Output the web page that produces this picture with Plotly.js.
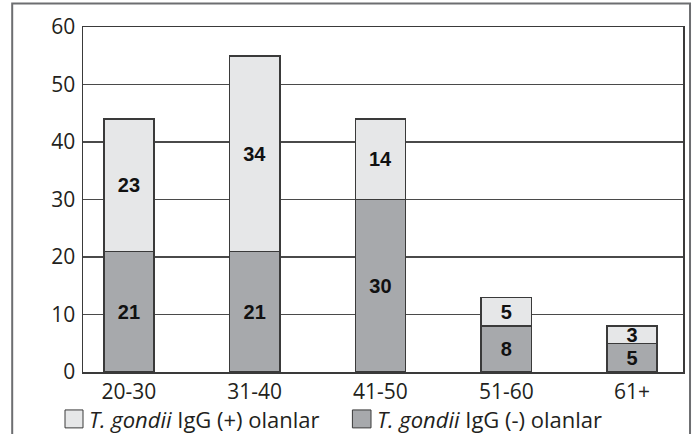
<!DOCTYPE html>
<html>
<head>
<meta charset="utf-8">
<script src="https://cdn.plot.ly/plotly-3.0.1.min.js"></script>
<style>html,body{margin:0;padding:0;background:#fff;}#chart{width:696px;height:434px;}</style>
</head>
<body>
<div id="chart"></div>
<script>
var categories = ["20-30", "31-40", "41-50", "51-60", "61+"];
var negativeValues = [21, 21, 30, 8, 5];
var positiveValues = [23, 34, 14, 5, 3];
var seriesNames = ["<i>T. gondii</i> IgG (+) olanlar", "<i>T. gondii</i> IgG (-) olanlar"];
var yTicks = [0, 10, 20, 30, 40, 50, 60];

var lightFill = "#e6e7e8", darkFill = "#a7a9ac", outline = "#3a3a3a";
var fontFam = "'Open Sans', Lato, sans-serif";
var tickFont = {family: fontFam, size: 21, color: "#231f20"};
var barFont = {family: "'Liberation Sans', Arial, sans-serif", size: 20, color: "#111"};

var traces = [
  {type: "bar", x: categories, y: negativeValues, name: seriesNames[1],
   text: negativeValues.map(String), textposition: "inside", insidetextanchor: "middle",
   textangle: 0, constraintext: "none", textfont: barFont, texttemplate: "<b>%{text}</b>",
   marker: {color: darkFill, line: {color: outline, width: 1.5}}, width: 0.4, hoverinfo: "none"},
  {type: "bar", x: categories, y: positiveValues, name: seriesNames[0],
   text: positiveValues.map(String), textposition: "inside", insidetextanchor: "middle",
   textangle: 0, constraintext: "none", textfont: barFont, texttemplate: "<b>%{text}</b>",
   marker: {color: lightFill, line: {color: outline, width: 1.5}}, width: 0.4, hoverinfo: "none"}
];

var layout = {
  width: 696, height: 434,
  margin: {l: 83, r: 13, t: 27, b: 62},
  barmode: "stack",
  showlegend: false,
  paper_bgcolor: "#fff", plot_bgcolor: "#fff",
  xaxis: {type: "category", range: [-0.365, 4.405], showline: true, mirror: true,
          linecolor: outline, linewidth: 1.5, showgrid: false, tickfont: tickFont, ticks: "", fixedrange: true},
  yaxis: {range: [0, 60], tickvals: yTicks, showline: true, mirror: true, linecolor: outline, linewidth: 1.5,
          showgrid: true, gridcolor: "#4a4a4a", gridwidth: 1.3, zeroline: false, tickfont: tickFont,
          ticks: "outside", ticklen: 2, tickcolor: "rgba(0,0,0,0)", fixedrange: true},
  shapes: [
    {type: "rect", xref: "paper", yref: "paper", x0: -0.118, x1: 1.0117, y0: -0.4, y1: 1.068,
     line: {color: "#6d6e71", width: 2}, fillcolor: "rgba(0,0,0,0)", layer: "below"},
    {type: "rect", xref: "paper", yref: "paper", x0: -0.030, x1: 0.0, y0: -0.162, y1: -0.110,
     line: {color: outline, width: 1}, fillcolor: lightFill},
    {type: "rect", xref: "paper", yref: "paper", x0: 0.449, x1: 0.480, y0: -0.162, y1: -0.110,
     line: {color: outline, width: 1}, fillcolor: darkFill}
  ],
  annotations: [
    {xref: "paper", yref: "paper", x: 0.007, y: -0.1362, xanchor: "left", yanchor: "middle",
     text: seriesNames[0], showarrow: false, font: {family: fontFam, size: 22, color: "#231f20"}},
    {xref: "paper", yref: "paper", x: 0.487, y: -0.1362, xanchor: "left", yanchor: "middle",
     text: seriesNames[1], showarrow: false, font: {family: fontFam, size: 22, color: "#231f20"}}
  ]
};

Plotly.newPlot("chart", traces, layout, {displayModeBar: false, staticPlot: true});
</script>
</body>
</html>
